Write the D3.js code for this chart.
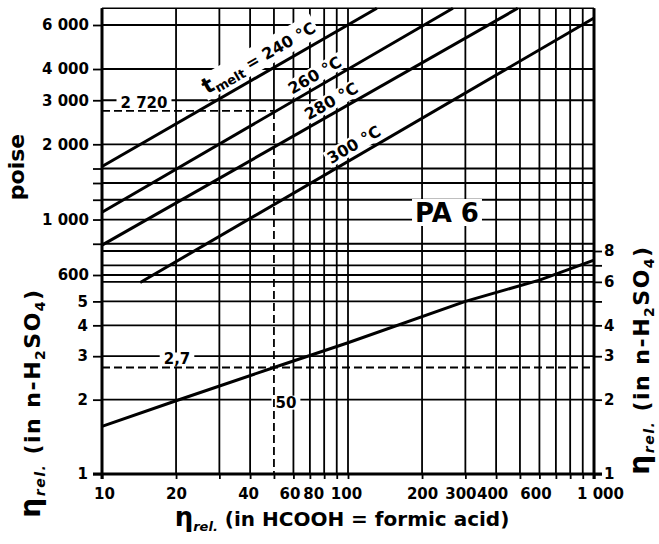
<!DOCTYPE html>
<html>
<head>
<meta charset="utf-8">
<script src="https://cdn.jsdelivr.net/npm/d3@7"></script>
<style>
body { margin: 0; background: #fff; }
svg { display: block; background: #fff; }
text { font-family: 'DejaVu Sans', sans-serif; fill: #000; }
.tick-label, .tick text { font-size: 15px; font-weight: bold; }
.grid { stroke: #000; stroke-width: 1.8; }
.tick line { stroke: #000; stroke-width: 1.8; }
.border { stroke: #000; stroke-width: 3; }
.dashed { stroke: #000; stroke-width: 1.8; stroke-dasharray: 8,4; }
.curve { fill: none; stroke: #000; stroke-width: 3; stroke-linejoin: round; }
.title { font-size: 20px; font-weight: bold; }
.melt-label { font-size: 16px; font-weight: bold; }
</style>
</head>
<body>
<div id="nomogram"></div>
<script>
const container_id = 'nomogram';
const width = 659, height = 544;

// vertical grid: η rel. in HCOOH
const hcoohGrid = [10, 20, 30, 40, 50, 60, 70, 80, 90, 100, 200, 300, 400, 500, 600, 700, 800, 900, 1000];
const hcoohLabels = [10, 20, 40, 60, 80, 100, 200, 300, 400, 600, 1000];
// upper part: melt viscosity in poise
const poiseGrid = [6000, 4000, 3000, 2000, 1600, 1400, 1200, 1000, 800, 600];
const poiseLabels = [6000, 4000, 3000, 2000, 1000, 600];
// lower part: η rel. in n-H2SO4
const sulfGrid = [8, 7, 6, 5, 4, 3, 2, 1];
const sulfLabelsLeft = [5, 4, 3, 2, 1];
const sulfLabelsRight = [8, 6, 4, 3, 2, 1];

// melt viscosity lines [η rel. HCOOH, poise]
const meltTemps = [240, 260, 280, 300];
const melt240 = [[10, 1630], [131, 7000]];
const melt260 = [[10, 1070], [267, 7000]];
const melt280 = [[10, 790], [490, 7000]];
const melt300 = [[14.3, 560], [1000, 6400]];

// conversion curve [η rel. HCOOH, η rel. H2SO4]
const conversion = [[10, 1.56], [20, 1.98], [50, 2.7], [100, 3.4], [300, 5.0], [600, 6.1], [1000, 7.35]];

// worked example
const exampleHcooh = 50, examplePoise = 2720, exampleSulf = 2.7;

const x = d3.scaleLog().domain([10, 1000]).range([102, 594]);
const yPoise = d3.scaleLog().domain([600, 6000]).range([275, 25]);
const ySulf = d3.scaleLog().domain([1, 8]).range([474, 251]);
const plotTop = yPoise(7000), plotBottom = ySulf(1);
const plotLeft = x(10), plotRight = x(1000);

const fmt = d => d3.format(',')(d).replace(',', ' ');

function hline(layer, y, x1, x2, cls) {
    return layer.append('line').attr('class', cls)
        .attr('x1', x1).attr('x2', x2).attr('y1', y).attr('y2', y);
}
function vline(layer, xv, y1, y2, cls) {
    return layer.append('line').attr('class', cls)
        .attr('x1', xv).attr('x2', xv).attr('y1', y1).attr('y2', y2);
}

function drawGrid(layer) {
    hcoohGrid.forEach(v => {
        const yEnd = v === exampleHcooh ? yPoise(examplePoise) : plotBottom;
        vline(layer, x(v), plotTop, yEnd, 'grid');
    });
    poiseGrid.forEach(v => hline(layer, yPoise(v), plotLeft, plotRight, 'grid'));
    sulfGrid.forEach(v => hline(layer, ySulf(v), plotLeft, plotRight, 'grid'));
}

function drawAxes(svg) {
    // crowded labels sit a little off their tick, as in the printed chart
    const nudge = {10: 2, 40: -2, 60: -4, 80: -11, 100: -2, 300: -5, 400: -4, 600: -4, 1000: 6};
    svg.append('g')
        .attr('transform', 'translate(0,' + plotBottom + ')')
        .call(d3.axisBottom(x).tickValues(hcoohGrid).tickSize(5).tickPadding(9)
            .tickFormat(d => hcoohLabels.includes(d) ? fmt(d) : ''))
        .call(g => g.select('.domain').remove())
        .call(g => g.selectAll('.tick text').attr('dx', d => nudge[d] || 0));
    svg.append('g')
        .attr('transform', 'translate(' + plotLeft + ',0)')
        .call(d3.axisLeft(yPoise).tickValues(poiseGrid).tickSize(9).tickPadding(4)
            .tickFormat(d => poiseLabels.includes(d) ? fmt(d) : ''))
        .call(g => g.select('.domain').remove());
    svg.append('g')
        .attr('transform', 'translate(' + plotLeft + ',0)')
        .call(d3.axisLeft(ySulf).tickValues(sulfLabelsLeft).tickSize(9).tickPadding(5).tickFormat(d => d))
        .call(g => g.select('.domain').remove());
    svg.append('g')
        .attr('transform', 'translate(' + plotRight + ',0)')
        .call(d3.axisRight(ySulf).tickValues(sulfGrid).tickSize(8).tickPadding(2)
            .tickFormat(d => sulfLabelsRight.includes(d) ? d : ''))
        .call(g => g.select('.domain').remove());
    svg.selectAll('.tick text').attr('font-size', null).attr('font-family', null);
}

function drawBorders(svg) {
    vline(svg, plotLeft, plotTop, plotBottom + 5, 'border');
    vline(svg, plotRight, plotTop, plotBottom + 5, 'border');
    hline(svg, plotBottom, plotLeft - 9, plotRight + 8, 'border');
    hline(svg, plotTop, plotLeft, plotRight, 'grid').style('stroke-width', 1.5);
}

// white patch behind a text so the grid breaks around it
function backdrop(bgLayer, textSel, transform, pad) {
    const b = textSel.node().getBBox();
    bgLayer.append('rect')
        .attr('transform', transform)
        .attr('x', b.x - pad).attr('y', b.y + pad * 0.5)
        .attr('width', b.width + 2 * pad).attr('height', b.height - pad)
        .attr('fill', '#fff');
}

function addParts(textSel, parts) {
    let shift = 0;
    parts.forEach(p => {
        const s = p.sub || 0;
        const t = textSel.append('tspan').attr('dy', s - shift).text(p.t);
        if (p.size) t.style('font-size', p.size + 'px');
        if (p.italic) t.style('font-style', 'italic');
        shift = s;
    });
}

function drawMeltLines(curveLayer, textLayer, bgLayer) {
    const lines = [melt240, melt260, melt280, melt300];
    const labelAt = [28, 61, 71, 88];
    const line = d3.line().x(d => x(d[0])).y(d => yPoise(d[1]));
    lines.forEach((seg, i) => {
        curveLayer.append('path').attr('class', 'curve').attr('d', line(seg));
        const [a, b] = seg;
        const angle = Math.atan2(yPoise(b[1]) - yPoise(a[1]), x(b[0]) - x(a[0])) * 180 / Math.PI;
        const eta = labelAt[i];
        const t = (Math.log(eta) - Math.log(a[0])) / (Math.log(b[0]) - Math.log(a[0]));
        const p = Math.exp(Math.log(a[1]) + t * (Math.log(b[1]) - Math.log(a[1])));
        const tr = 'translate(' + x(eta) + ',' + yPoise(p) + ') rotate(' + angle + ')';
        const txt = textLayer.append('text').attr('class', 'melt-label')
            .attr('transform', tr).attr('y', i === 0 ? -10 : -6);
        if (i === 0) {
            addParts(txt, [{t: 't', size: 22}, {t: 'melt', size: 13, sub: 4}, {t: ' = ' + meltTemps[i] + ' °C'}]);
        } else {
            txt.text(meltTemps[i] + ' °C');
        }
        backdrop(bgLayer, txt, tr, 2);
    });
}

function drawConversion(curveLayer) {
    const line = d3.line().x(d => x(d[0])).y(d => ySulf(d[1]));
    curveLayer.append('path').attr('class', 'curve').attr('d', line(conversion));
}

function drawExample(dashLayer, textLayer, bgLayer) {
    hline(dashLayer, yPoise(examplePoise), plotLeft, x(exampleHcooh), 'dashed');
    vline(dashLayer, x(exampleHcooh), yPoise(examplePoise), plotBottom, 'dashed');
    hline(dashLayer, ySulf(exampleSulf), plotLeft, plotRight, 'dashed');

    const t1 = textLayer.append('text').attr('class', 'tick-label')
        .attr('x', 144).attr('y', yPoise(examplePoise) - 2.5).attr('text-anchor', 'middle')
        .text(fmt(examplePoise));
    backdrop(bgLayer, t1, null, 4);
    const t2 = textLayer.append('text').attr('class', 'tick-label')
        .attr('x', 177).attr('y', ySulf(exampleSulf) - 3).attr('text-anchor', 'middle')
        .text(String(exampleSulf).replace('.', ','));
    backdrop(bgLayer, t2, null, 4);
    const t3 = textLayer.append('text').attr('class', 'tick-label')
        .attr('x', x(exampleHcooh) + 12).attr('y', ySulf(2) + 8).attr('text-anchor', 'middle')
        .text(exampleHcooh);
    backdrop(bgLayer, t3, null, 4);

    const pa = textLayer.append('text')
        .attr('x', 447).attr('y', 221.5).attr('text-anchor', 'middle')
        .style('font-size', '26px').style('font-weight', 'bold').text('PA 6');
    backdrop(bgLayer, pa, null, 3);
}

function drawTitles(svg) {
    svg.append('text').attr('class', 'title')
        .attr('transform', 'translate(24,167) rotate(-90)')
        .attr('text-anchor', 'middle').style('font-size', '22px').text('poise');

    const sulfParts = [
        {t: 'η', size: 28}, {t: 'rel.', size: 14, italic: true, sub: 5},
        {t: ' (in n-H'}, {t: '2', size: 14, sub: 5}, {t: 'SO'}, {t: '4', size: 14, sub: 5}, {t: ')'}
    ];
    const left = svg.append('text').attr('class', 'title')
        .attr('transform', 'translate(40,403) rotate(-90)')
        .attr('text-anchor', 'middle').style('font-size', '22px').style('letter-spacing', '1.5px');
    addParts(left, sulfParts);
    const right = svg.append('text').attr('class', 'title')
        .attr('transform', 'translate(649,360) rotate(-90)')
        .attr('text-anchor', 'middle').style('font-size', '22px').style('letter-spacing', '1.5px');
    addParts(right, sulfParts);

    const bottom = svg.append('text').attr('class', 'title')
        .attr('x', 342).attr('y', 526).attr('text-anchor', 'middle');
    addParts(bottom, [{t: 'η', size: 26}, {t: 'rel.', size: 13, italic: true, sub: 5},
        {t: ' (in HCOOH = formic acid)'}]);
}

function drawNomogram() {
    const svg = d3.select('#' + container_id).append('svg')
        .attr('width', width).attr('height', height);
    const gridLayer = svg.append('g');
    const bgLayer = svg.append('g');
    const dashLayer = svg.append('g');
    const curveLayer = svg.append('g');
    const textLayer = svg.append('g');

    drawGrid(gridLayer);
    drawAxes(gridLayer);
    drawExample(dashLayer, textLayer, bgLayer);
    drawMeltLines(curveLayer, textLayer, bgLayer);
    drawConversion(curveLayer);
    drawBorders(curveLayer);
    drawTitles(textLayer);
}

drawNomogram();
</script>
</body>
</html>
